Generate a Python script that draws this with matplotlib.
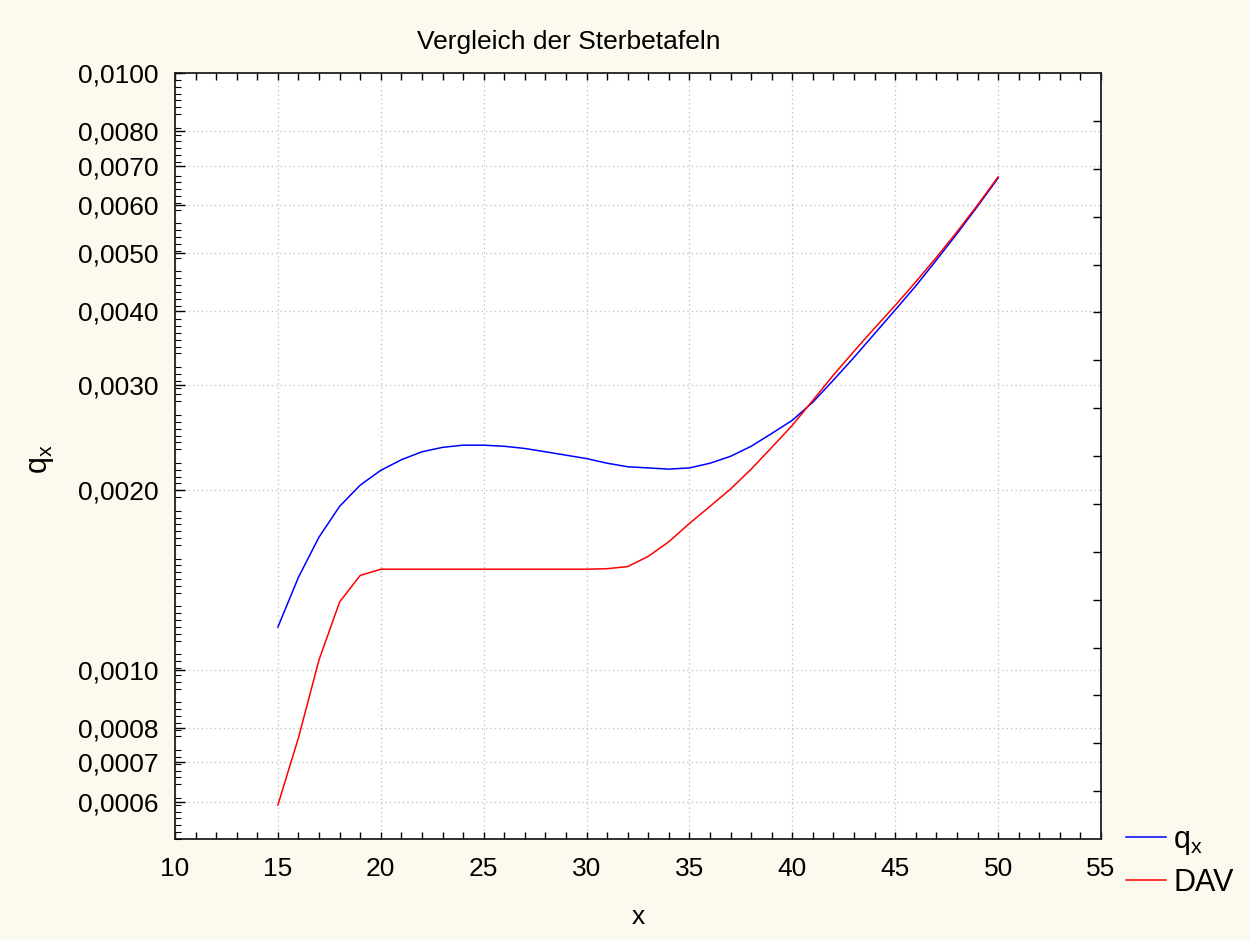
import matplotlib
matplotlib.use("Agg")
import matplotlib.pyplot as plt
from matplotlib.ticker import FixedLocator, FixedFormatter, MultipleLocator, NullFormatter, NullLocator

plt.rcParams['font.family'] = ['Liberation Sans', 'DejaVu Sans']
plt.rcParams['mathtext.fontset'] = 'custom'
plt.rcParams['mathtext.rm'] = 'Liberation Sans'
plt.rcParams['mathtext.it'] = 'Liberation Sans'

# ---- data ----
ages = list(range(15, 51))
qx = [0.00118, 0.00143, 0.00167, 0.00188, 0.00204, 0.00216, 0.00225, 0.00232, 0.00236, 0.00238,
      0.00238, 0.00237, 0.00235, 0.00232, 0.00229, 0.00226, 0.00222, 0.00219, 0.00218, 0.00217,
      0.00218, 0.00222, 0.00228, 0.00237, 0.00249, 0.00262, 0.00281, 0.00306, 0.00334, 0.00366,
      0.00401, 0.00440, 0.00486, 0.00538, 0.00598, 0.00667]
dav = [0.000594, 0.00077, 0.00104, 0.00130, 0.00144, 0.001475, 0.001475, 0.001475, 0.001475, 0.001475,
       0.001475, 0.001475, 0.001475, 0.001475, 0.001475, 0.001475, 0.001478, 0.00149, 0.00155, 0.00164,
       0.00176, 0.00188, 0.00201, 0.00217, 0.00236, 0.00257, 0.00283, 0.00312, 0.00342, 0.00374,
       0.00408, 0.00447, 0.00491, 0.00542, 0.00601, 0.00670]
series_labels = ['q$_{x}$', 'DAV']
y_ticks = [0.0006, 0.0007, 0.0008, 0.0010, 0.0020, 0.0030, 0.0040, 0.0050, 0.0060, 0.0070, 0.0080, 0.0100]
y_ticklabels = ['0,0006', '0,0007', '0,0008', '0,0010', '0,0020', '0,0030', '0,0040', '0,0050',
                '0,0060', '0,0070', '0,0080', '0,0100']
x_ticks = [10, 15, 20, 25, 30, 35, 40, 45, 50, 55]

bg = '#FCF9EF'
fig = plt.figure(figsize=(12.5, 9.4), dpi=100, facecolor=bg)
ax = fig.add_axes([0.14, 0.10745, 0.7408, 0.81485])
ax.set_facecolor('white')

l1, = ax.plot(ages, qx, color='#0000FF', lw=1.1)
l2, = ax.plot(ages, dav, color='#FF0000', lw=1.1)

ax.set_yscale('log')
ax.set_xlim(10, 55)
ax.set_ylim(0.000521, 0.0100)

ax.yaxis.set_major_locator(FixedLocator(y_ticks))
ax.yaxis.set_major_formatter(FixedFormatter(y_ticklabels))
ax.yaxis.set_minor_locator(NullLocator())
ax.yaxis.set_minor_formatter(NullFormatter())
ax.xaxis.set_major_locator(FixedLocator(x_ticks))
ax.xaxis.set_minor_locator(MultipleLocator(1))

ax.grid(True, which='major', color='#BDBDBD', linestyle=(0, (1, 2.5)), lw=0.9)
ax.tick_params(axis='x', which='both', direction='in', top=True, bottom=True,
               labelsize=19, pad=13, length=5, width=1)
ax.tick_params(axis='y', which='major', direction='in', left=True, right=False,
               labelsize=19, pad=12, length=7, width=1)
for s in ax.spines.values():
    s.set_linewidth(1.3)
    s.set_color('#202020')

# secondary (uniform) tick scale used for right-side ticks and left minor ticks
ax2 = ax.twinx()
ax2.set_ylim(0, 16)
ax2.yaxis.set_major_locator(FixedLocator(list(range(1, 16))))
ax2.yaxis.set_minor_locator(MultipleLocator(1 / 7))
ax2.yaxis.set_major_formatter(NullFormatter())
ax2.tick_params(axis='y', which='major', direction='in', right=True, left=False, length=6, width=1)
ax2.tick_params(axis='y', which='minor', direction='in', right=False, left=True, length=4, width=0.8)
for s in ax2.spines.values():
    s.set_visible(False)

fig.text(0.4552, 0.955, 'Vergleich der Sterbetafeln', ha='center', va='center', fontsize=19)
fig.text(0.5104, 0.024, 'x', ha='center', va='center', fontsize=19)
fig.text(0.033, 0.512, 'q$_{x}$', ha='center', va='center', fontsize=22, rotation=90)

fig.legend([l1, l2], series_labels, loc='upper left', bbox_to_anchor=(0.9008, 0.1225),
           frameon=False, fontsize=22, handlelength=1.3, handletextpad=0.25,
           labelspacing=0.35, borderaxespad=0, borderpad=0)

fig.savefig('out.png', dpi=100, facecolor=bg)
